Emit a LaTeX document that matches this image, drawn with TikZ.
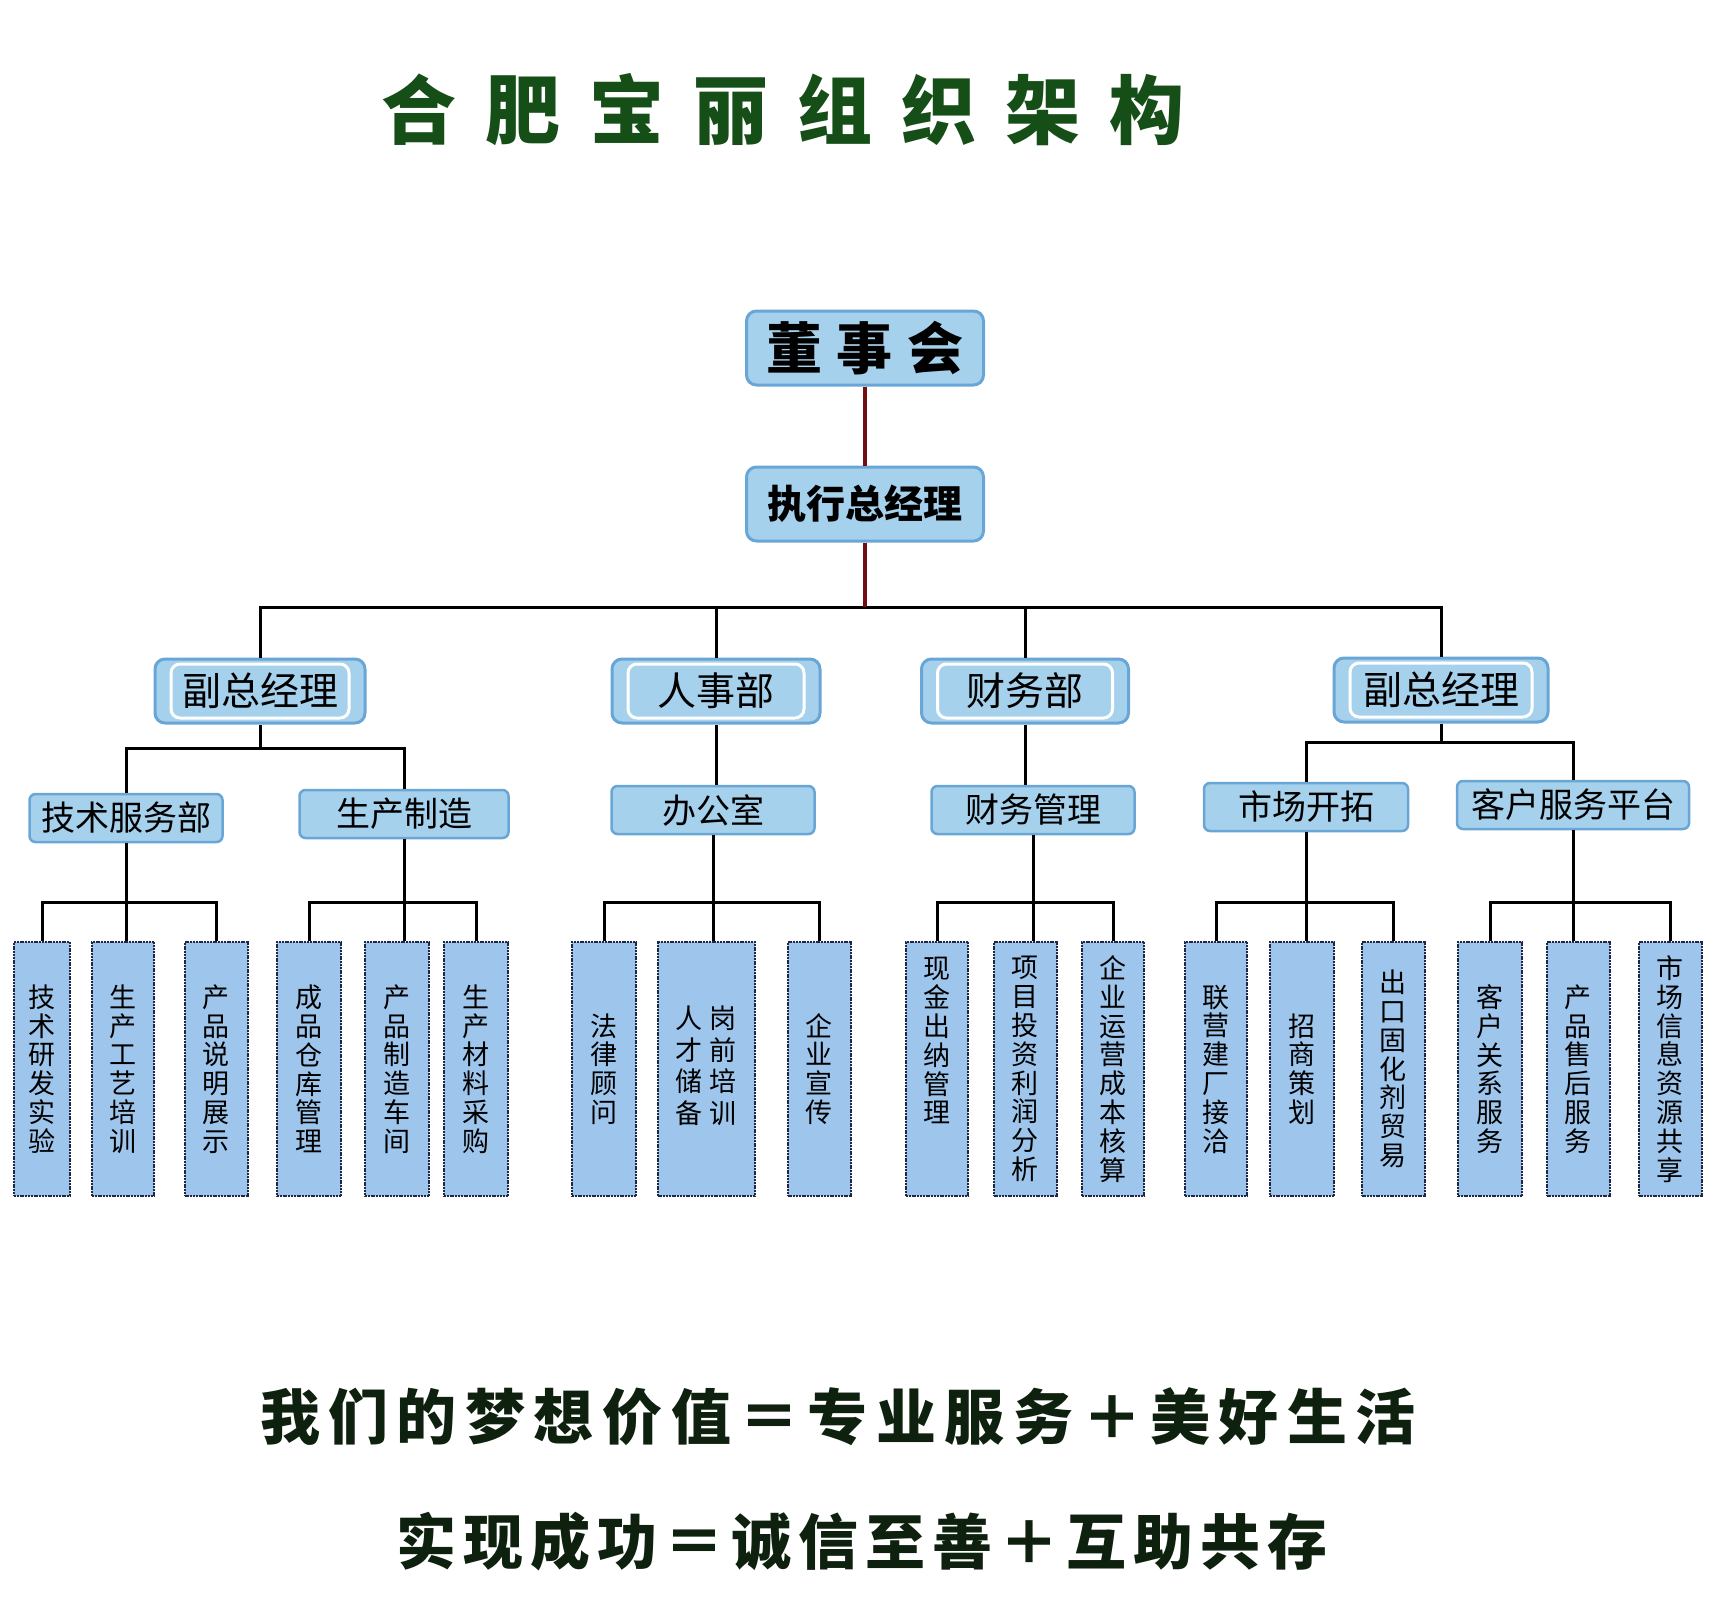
\documentclass[tikz,border=0pt]{standalone}
\usepackage{fontspec}
\setmainfont{Noto Sans CJK SC}
\usetikzlibrary{calc}
\definecolor{boxfill}{RGB}{166,209,236}
\definecolor{boxedge}{RGB}{105,166,214}
\definecolor{leaffill}{RGB}{158,198,236}
\definecolor{leafedge}{RGB}{30,40,70}
\definecolor{redline}{RGB}{115,14,20}
\definecolor{titlegreen}{RGB}{22,78,24}
\definecolor{slogancol}{RGB}{14,32,14}
\makeatletter
\newcommand\spacedtext[2]{\def\st@sep{}\@tfor\st@c:=#2\do{\st@sep\st@c\def\st@sep{\hspace*{#1}}}}
\makeatother
\begin{document}
\begin{tikzpicture}[x=1pt,y=-1pt,
  conn/.style={line width=3pt,black},
  redconn/.style={line width=4pt,redline},
  topbox/.style={draw=boxedge,line width=3pt,fill=boxfill,rounded corners=10pt,inner sep=0pt,
    minimum width=237pt,minimum height=74pt,font=\fontsize{39}{40}\selectfont\bfseries},
  mgrbox/.style={draw=boxedge,line width=3pt,fill=boxfill,rounded corners=10pt,inner sep=0pt,
    minimum height=64pt,font=\fontsize{39}{40}\selectfont,
    path picture={\draw[white,line width=3pt,rounded corners=9pt]
      ([shift={(16,5)}]path picture bounding box.north west) rectangle
      ([shift={(-16,-5)}]path picture bounding box.south east);}},
  deptbox/.style={draw=boxedge,line width=2.5pt,fill=boxfill,rounded corners=6pt,inner sep=0pt,
    minimum height=48pt,font=\fontsize{34}{36}\selectfont},
  leafbox/.style={draw=leafedge,line width=2pt,dash pattern=on 2pt off 0.8pt,fill=leaffill,
    inner sep=0pt,minimum height=254pt,align=center,font=\fontsize{27}{28.8}\selectfont}
]
\useasboundingbox (0,0) rectangle (1720,1600);
\fill[white] (0,0) rectangle (1720,1600);

% title
\node[font=\fontsize{75}{80}\selectfont\bfseries,text=titlegreen] (title) at (783,110)
  {\spacedtext{29pt}{合肥宝丽组织架构}};

% top
\node[topbox,font=\fontsize{56}{60}\selectfont\bfseries] (ds) at (865,348) {\spacedtext{15pt}{董事会}};
\node[topbox] (ex) at (865,504) {执行总经理};

% managers
\node[mgrbox,minimum width=210pt] (fzL) at (260,691) {副总经理};
\node[mgrbox,minimum width=208pt] (rsb) at (716,691) {人事部};
\node[mgrbox,minimum width=207pt] (cwb) at (1025,691) {财务部};
\node[mgrbox,minimum width=214pt] (fzR) at (1441,690) {副总经理};

% departments
\node[deptbox,minimum width=193pt] (jsfw) at (126,818) {技术服务部};
\node[deptbox,minimum width=209pt] (sczz) at (404,814) {生产制造};
\node[deptbox,minimum width=203pt] (bgs) at (713,810) {办公室};
\node[deptbox,minimum width=203pt] (cwgl) at (1033,810) {财务管理};
\node[deptbox,minimum width=204pt] (sckt) at (1306,807) {市场开拓};
\node[deptbox,minimum width=232pt] (khfw) at (1573,805) {客户服务平台};

% leaves
\node[leafbox,minimum width=56pt] (l11) at (42,1069) {技\\术\\研\\发\\实\\验};
\node[leafbox,minimum width=62pt] (l12) at (123,1069) {生\\产\\工\\艺\\培\\训};
\node[leafbox,minimum width=63pt] (l13) at (216,1069) {产\\品\\说\\明\\展\\示};
\node[leafbox,minimum width=64pt] (l21) at (309,1069) {成\\品\\仓\\库\\管\\理};
\node[leafbox,minimum width=64pt] (l22) at (397,1069) {产\\品\\制\\造\\车\\间};
\node[leafbox,minimum width=64pt] (l23) at (476,1069) {生\\产\\材\\料\\采\\购};
\node[leafbox,minimum width=64pt] (l31) at (604,1069) {法\\律\\顾\\问};
\node[leafbox,minimum width=97pt] (l32) at (706,1069)
  {\begin{tabular}{@{}c@{\hspace{7pt}}c@{}}人&岗\\才&前\\储&培\\备&训\end{tabular}};
\node[leafbox,minimum width=63pt] (l33) at (819,1069) {企\\业\\宣\\传};
\node[leafbox,minimum width=62pt] (l41) at (937,1069) {现\\金\\出\\纳\\管\\理\\~\\~};
\node[leafbox,minimum width=63pt] (l42) at (1025,1069) {项\\目\\投\\资\\利\\润\\分\\析};
\node[leafbox,minimum width=62pt] (l43) at (1113,1069) {企\\业\\运\\营\\成\\本\\核\\算};
\node[leafbox,minimum width=62pt] (l51) at (1216,1069) {联\\营\\建\\厂\\接\\洽};
\node[leafbox,minimum width=64pt] (l52) at (1302,1069) {招\\商\\策\\划};
\node[leafbox,minimum width=63pt] (l53) at (1393,1069) {出\\口\\固\\化\\剂\\贸\\易};
\node[leafbox,minimum width=64pt] (l61) at (1490,1069) {客\\户\\关\\系\\服\\务};
\node[leafbox,minimum width=63pt] (l62) at (1578,1069) {产\\品\\售\\后\\服\\务};
\node[leafbox,minimum width=63pt] (l63) at (1670,1069) {市\\场\\信\\息\\资\\源\\共\\享};

% slogans
\node[font=\fontsize{60}{64}\selectfont\bfseries,text=slogancol] (sg1) at (838,1417)
  {\spacedtext{8.5pt}{我们的梦想价值＝专业服务＋美好生活}};
\node[font=\fontsize{60}{64}\selectfont\bfseries,text=slogancol] (sg2) at (862,1542)
  {\spacedtext{7pt}{实现成功＝诚信至善＋互助共存}};

% connectors
\coordinate (busA) at (0,607);
\coordinate (busL) at (0,748);
\coordinate (busR) at (0,742);
\coordinate (b3) at (0,902);

\draw[conn] (fzL.north) |- (fzR.north |- busA) -- (fzR.north);
\draw[conn] (rsb.north) -- (rsb.north |- busA);
\draw[conn] (cwb.north) -- (cwb.north |- busA);
\draw[redconn] (ds.south) -- (ex.north);
\draw[redconn] (ex.south) -- (ex.south |- busA);

\draw[conn] (fzL.south) -- (fzL.south |- busL);
\draw[conn] (jsfw.north) |- (sczz.north |- busL) -- (sczz.north);
\draw[conn] (rsb.south) -- (rsb.south |- bgs.north);
\draw[conn] (cwb.south) -- (cwb.south |- cwgl.north);
\draw[conn] (fzR.south) -- (fzR.south |- busR);
\draw[conn] (sckt.north) |- (khfw.north |- busR) -- (khfw.north);

\draw[conn] (jsfw.south) -- (jsfw.south |- l12.north);
\draw[conn] (l11.north) |- (l13.north |- b3) -- (l13.north);
\draw[conn] (sczz.south) -- (sczz.south |- l22.north);
\draw[conn] (l21.north) |- (l23.north |- b3) -- (l23.north);
\draw[conn] (bgs.south) -- (bgs.south |- l32.north);
\draw[conn] (l31.north) |- (l33.north |- b3) -- (l33.north);
\draw[conn] (cwgl.south) -- (cwgl.south |- l42.north);
\draw[conn] (l41.north) |- (l43.north |- b3) -- (l43.north);
\draw[conn] (sckt.south) -- (sckt.south |- l52.north);
\draw[conn] (l51.north) |- (l53.north |- b3) -- (l53.north);
\draw[conn] (khfw.south) -- (khfw.south |- l62.north);
\draw[conn] (l61.north) |- (l63.north |- b3) -- (l63.north);
\end{tikzpicture}
\end{document}
